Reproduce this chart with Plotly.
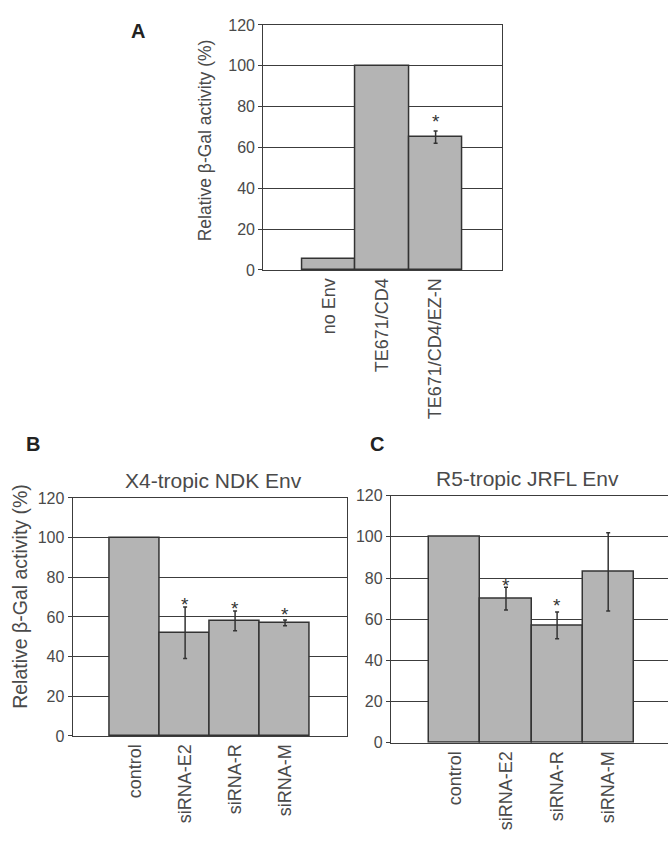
import plotly.graph_objects as go

# ---- data ----
a_cats = ["no Env", "TE671/CD4", "TE671/CD4/EZ-N"]
a_vals = [5.6, 100, 65]
a_err = [0, 0, 3]
a_star = [None, None, 74]

b_cats = ["control", "siRNA-E2", "siRNA-R", "siRNA-M"]
b_vals = [100, 52, 58, 57]
b_err = [0, 13, 5, 1.5]
b_star = [None, 68, 66, 62.5]

c_cats = ["control", "siRNA-E2", "siRNA-R", "siRNA-M"]
c_vals = [100, 70, 57, 83]
c_err = [0, 5.5, 6.5, 19]
c_star = [None, 78, 68, None]

y_ticks = [0, 20, 40, 60, 80, 100, 120]

W, H = 668, 841
def px(x): return x / W
def py(y): return 1 - y / H

BAR = "#b4b4b4"
EDGE = "#333333"
GRID = "#3c3c3c"
TXT = "#4a4a4a"
FONT = "Liberation Sans, Arial, sans-serif"

fig = go.Figure()

panels = [
    ("x", "y", a_cats, a_vals, a_err, a_star),
    ("x2", "y2", b_cats, b_vals, b_err, b_star),
    ("x3", "y3", c_cats, c_vals, c_err, c_star),
]
for xa, ya, cats, vals, errs, stars in panels:
    xs = list(range(len(cats)))
    fig.add_trace(go.Bar(
        x=xs, y=vals, width=1.0, xaxis=xa, yaxis=ya,
        marker=dict(color=BAR, line=dict(color=EDGE, width=1.5)),
        showlegend=False, hoverinfo="skip",
    ))
    ex = [xs[i] for i in range(len(xs)) if errs[i] > 0]
    ey = [vals[i] for i in range(len(xs)) if errs[i] > 0]
    ee = [errs[i] for i in range(len(xs)) if errs[i] > 0]
    fig.add_trace(go.Scatter(
        x=ex, y=ey, xaxis=xa, yaxis=ya, mode="markers",
        marker=dict(size=1, color="rgba(0,0,0,0)"),
        error_y=dict(type="data", array=ee, visible=True,
                     color=EDGE, thickness=1.5, width=2),
        showlegend=False, hoverinfo="skip",
    ))
    for i, s in enumerate(stars):
        if s is None:
            continue
        fig.add_annotation(x=xs[i], y=s, xref=xa, yref=ya, text="*",
                           showarrow=False, yanchor="middle", yshift=-3,
                           font=dict(family=FONT, size=19, color="#333"))

def xaxis(cats, dom, rng, mirror=True):
    return dict(domain=dom, range=rng, tickmode="array",
                tickvals=list(range(len(cats))), ticktext=cats,
                tickangle=-90, showgrid=False, zeroline=False,
                showline=True, linecolor=GRID, linewidth=1.3, mirror=mirror,
                ticks="", tickfont=dict(family=FONT, size=18, color=TXT))

def yaxis(dom, anchor, mirror=True):
    return dict(domain=dom, range=[0, 120], tickmode="array", tickvals=y_ticks,
                showgrid=True, gridcolor=GRID, gridwidth=1.3, zeroline=False,
                showline=True, linecolor=GRID, linewidth=1.3, mirror=mirror,
                ticks="outside", ticklen=4, tickcolor=GRID, anchor=anchor,
                tickfont=dict(family=FONT, size=16, color=TXT))

fig.update_layout(
    width=W, height=H, margin=dict(l=0, r=0, t=0, b=0),
    paper_bgcolor="white", plot_bgcolor="white", bargap=0,
    xaxis=dict(**xaxis(a_cats, [px(263.3), px(502.3)], [-1.23, 3.25]), anchor="y"),
    yaxis=yaxis([py(267.3), py(17.3)], "x"),
    xaxis2=dict(**xaxis(b_cats, [px(72.7), px(347)], [-1.25, 4.24]), anchor="y2"),
    yaxis2=yaxis([py(743), py(500)], "x2"),
    xaxis3=dict(**xaxis(c_cats, [px(391), 1.0], [-1.25, 4.17]), anchor="y3"),
    yaxis3=yaxis([py(750), py(497.7)], "x3", mirror=False),
)

def ann(x, y, text, size, bold=False, angle=0, color=TXT):
    fig.add_annotation(x=px(x), y=py(y), xref="paper", yref="paper",
                       text=f"<b>{text}</b>" if bold else text,
                       showarrow=False, textangle=angle,
                       xanchor="center", yanchor="middle",
                       font=dict(family=FONT, size=size, color=color))

ytitle = "Relative β-Gal activity (%)"
ann(205, 135, ytitle, 17.5, angle=-90)
ann(20, 601, ytitle, 19.5, angle=-90)
ann(138, 23, "A", 20, bold=True, color="#222")
ann(33, 445, "B", 20, bold=True, color="#222")
ann(377, 445, "C", 20, bold=True, color="#222")
ann(213, 482, "X4-tropic NDK Env", 21)
ann(527, 480, "R5-tropic JRFL Env", 21)

fig.write_html("out.html")
